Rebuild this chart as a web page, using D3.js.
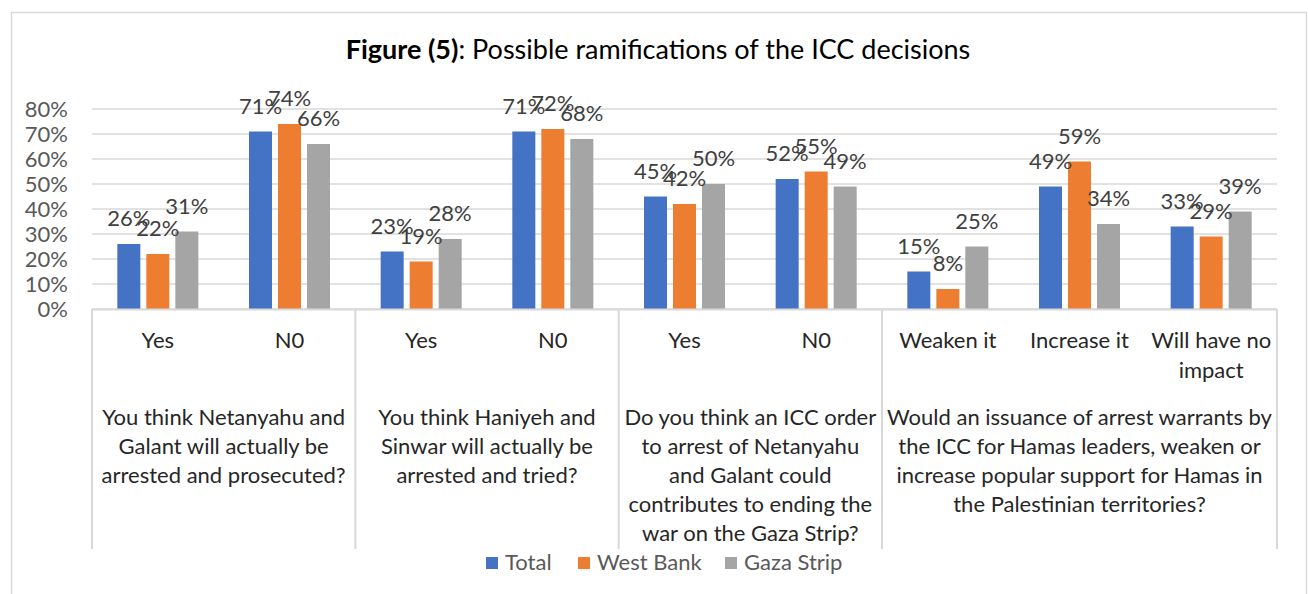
<!DOCTYPE html>
<html><head><meta charset="utf-8">
<script src="https://cdn.jsdelivr.net/npm/d3@7"></script>
<style>
html,body{margin:0;padding:0;background:#fff;}
svg{display:block;font-family:Lato,"Open Sans",sans-serif;}
</style></head>
<body>
<svg id="chart" width="1308" height="594"></svg>
<script>
const categories = ["Yes","N0","Yes","N0","Yes","N0","Weaken it","Increase it","Will have no impact"];
const categoryLines = [["Yes"],["N0"],["Yes"],["N0"],["Yes"],["N0"],["Weaken it"],["Increase it"],["Will have no","impact"]];
const questions = [
  ["You think Netanyahu and","Galant will actually be","arrested and prosecuted?"],
  ["You think Haniyeh and","Sinwar will actually be","arrested and tried?"],
  ["Do you think an ICC order","to arrest of Netanyahu","and Galant could","contributes to ending the","war on the Gaza Strip?"],
  ["Would an issuance of arrest warrants by","the ICC for Hamas leaders, weaken or","increase popular support for Hamas in","the Palestinian territories?"]
];
const questionSpans = [[0,2],[2,4],[4,6],[6,9]];
const seriesNames = ["Total","West Bank","Gaza Strip"];
const totalValues = [26,71,23,71,45,52,15,49,33];
const westBankValues = [22,74,19,72,42,55,8,59,29];
const gazaValues = [31,66,28,68,50,49,25,34,39];
const yTicks = [0,10,20,30,40,50,60,70,80];
const colors = ["#4472C4","#ED7D31","#A5A5A5"];

const seriesValues = [totalValues, westBankValues, gazaValues];
const svg = d3.select("#chart");
const FS = 22;

// outer border
svg.append("rect").attr("x",11.5).attr("y",12.5).attr("width",1295).attr("height",600)
  .attr("fill","none").attr("stroke","#D9D9D9").attr("stroke-width",1.5);

// title
const title = svg.append("text").attr("x",658).attr("y",59).attr("text-anchor","middle")
  .attr("font-size",27).attr("fill","#000");
title.append("tspan").attr("font-weight","bold").text("Figure (5)");
title.append("tspan").text(": Possible ramifications of the ICC decisions");

const plotLeft = 92, plotRight = 1277, plotTop = 109, plotBottom = 309;
const x = d3.scaleBand().domain(d3.range(categories.length)).range([plotLeft,plotRight]).padding(0);
const y = d3.scaleLinear().domain([0,80]).range([plotBottom,plotTop]);
const slot = 29;
const xs = d3.scaleBand().domain(d3.range(3)).range([-1.5*slot,1.5*slot]).paddingInner(6/29).paddingOuter(3/29);

// gridlines
svg.append("g").selectAll("line").data(yTicks).join("line")
  .attr("x1",plotLeft).attr("x2",plotRight).attr("y1",d=>y(d)).attr("y2",d=>y(d))
  .attr("stroke","#D9D9D9").attr("stroke-width",1.5);

// y axis labels
const yAxis = d3.axisLeft(y).tickValues(yTicks).tickFormat(d=>d+"%").tickSize(0).tickPadding(0);
const ya = svg.append("g").attr("transform",`translate(68,0)`).call(yAxis);
ya.select(".domain").remove();
ya.selectAll("text").attr("font-family","Lato").attr("font-size",FS).attr("fill","#595959").attr("dy","0.36em");

// bars
seriesValues.forEach((vals,s)=>{
  const g = svg.append("g");
  g.selectAll("rect").data(vals).join("rect")
    .attr("x",(d,i)=>x(i)+x.bandwidth()/2+xs(s))
    .attr("width",xs.bandwidth())
    .attr("y",d=>y(d)).attr("height",d=>plotBottom-y(d))
    .attr("fill",colors[s]);
});
// labels
seriesValues.forEach((vals,s)=>{
  svg.append("g").selectAll("text").data(vals).join("text")
    .attr("x",(d,i)=>x(i)+x.bandwidth()/2+xs(s)+xs.bandwidth()/2)
    .attr("y",d=>y(d)-18)
    .attr("text-anchor","middle").attr("font-size",FS).attr("fill","#404040")
    .text(d=>d+"%");
});

// category axis box
const axisColor = "#D9D9D9";
svg.append("line").attr("x1",plotLeft).attr("x2",plotRight).attr("y1",plotBottom+0.5).attr("y2",plotBottom+0.5)
  .attr("stroke",axisColor).attr("stroke-width",2);
const dividers = [0].concat(questionSpans.map(s=>s[1]));
svg.append("g").selectAll("line").data(dividers).join("line")
  .attr("x1",d=> d<categories.length ? x(d) : plotRight).attr("x2",d=> d<categories.length ? x(d) : plotRight)
  .attr("y1",plotBottom).attr("y2",549).attr("stroke",axisColor).attr("stroke-width",2);

// category labels
categoryLines.forEach((lines,i)=>{
  const t = svg.append("text").attr("text-anchor","middle").attr("font-size",FS).attr("fill","#262626");
  lines.forEach((ln,k)=>t.append("tspan").attr("x",x(i)+x.bandwidth()/2).attr("y",348+k*29.5).text(ln));
});
questions.forEach((lines,q)=>{
  const [a,b] = questionSpans[q];
  const cx = (x(a) + (b<categories.length? x(b): plotRight))/2;
  const t = svg.append("text").attr("text-anchor","middle").attr("font-size",FS).attr("fill","#262626");
  lines.forEach((ln,k)=>t.append("tspan").attr("x",cx).attr("y",425+k*29).text(ln));
});

// legend
const legendItems = [{x:486,n:0},{x:578,n:1},{x:725,n:2}];
legendItems.forEach(it=>{
  svg.append("rect").attr("x",it.x).attr("y",557).attr("width",12).attr("height",12).attr("fill",colors[it.n]);
  svg.append("text").attr("x",it.x+19).attr("y",570).attr("font-size",FS).attr("fill","#595959").text(seriesNames[it.n]);
});
</script>
</body></html>
